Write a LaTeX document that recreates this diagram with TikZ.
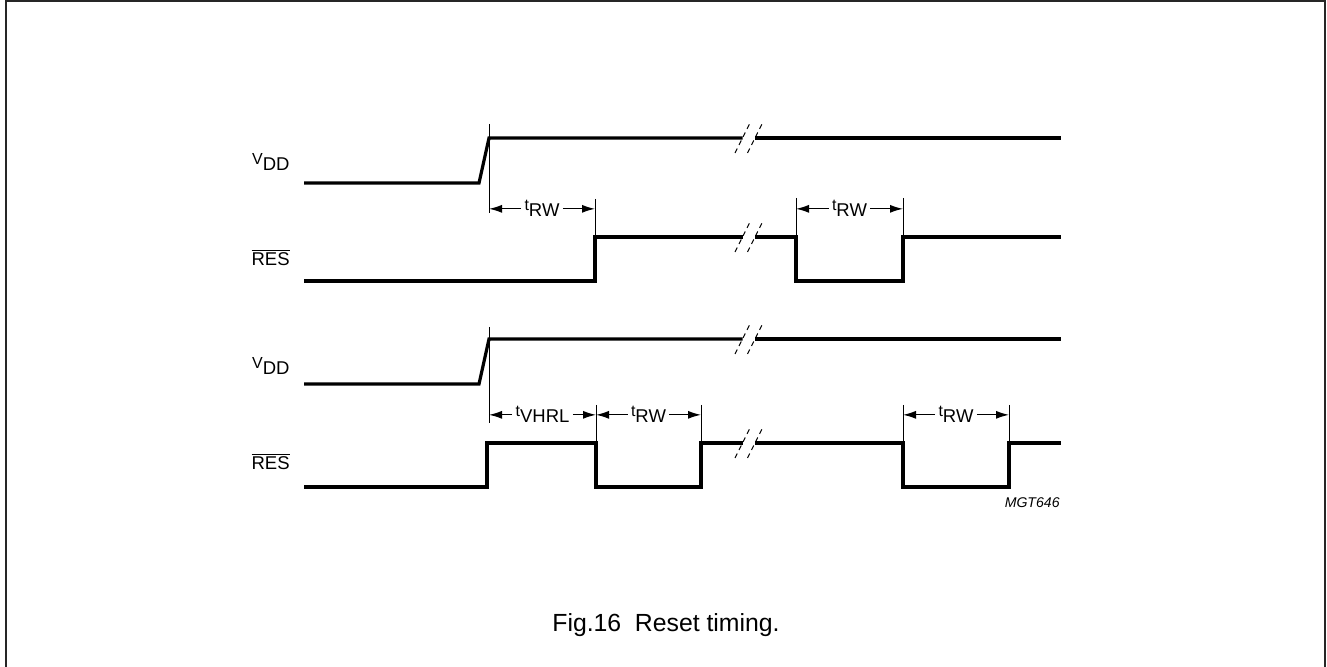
\documentclass[tikz,border=0pt]{standalone}
\usepackage{fontspec}
\setmainfont{Liberation Sans}
\usetikzlibrary{arrows.meta}
\tikzset{
    wave/.style = {line width=1.6pt, line join=miter},
    tick/.style = {line width=0.5pt},
    dim/.style = {-{Latex[length=6.5pt,width=4pt]}, line width=0.6pt},
    brk/.style = {line width=0.5pt, dash pattern=on 2.5pt off 2pt},
    lbl/.style = {inner sep=1.5pt, font=\fontsize{9.25}{11}\selectfont},
    sig/.style = {inner sep=0pt, anchor=base east, font=\fontsize{9.25}{11}\selectfont}
}
\newcommand{\upletter}[2]{\raisebox{3pt}{\fontsize{8}{9}\selectfont #1}#2}
\begin{document}
\begin{tikzpicture}[x=0.5pt, y=-0.5pt]
    \useasboundingbox (0,0) rectangle (1327,667);

    % Frame
    \draw[line width=1pt, black!85] (5.5,668) -- (5.5,1) -- (1325,1) -- (1325,668);

    % Signal names
    \node[sig] (vddA) at (290,171) {\upletter{V}{DD}};
    \node[sig] (resA) at (290,266) {$\overline{\mbox{RES}}$};
    \node[sig] (vddB) at (290,375) {\upletter{V}{DD}};
    \node[sig] (resB) at (290,470) {$\overline{\mbox{RES}}$};

    % Break points
    \coordinate (bA) at (749,138);
    \coordinate (bB) at (749,237);
    \coordinate (bC) at (749,339);
    \coordinate (bD) at (749,443);

    % Upper VDD and RES
    \draw[wave] (304,183) -- (479,183) -- (489,138) -- ([shift={(-6.5,0)}]bA);
    \draw[wave] ([shift={(6,0)}]bA) -- (1061,138);
    \draw[wave] (304,281) -- (595,281) -- (595,237) -- ([shift={(-6.5,0)}]bB);
    \draw[wave] ([shift={(6,0)}]bB) -- (796,237) -- (796,281) -- (903,281) -- (903,237) -- (1061,237);

    % Lower VDD and RES
    \draw[wave] (304,384) -- (479,384) -- (489,339) -- ([shift={(-6.5,0)}]bC);
    \draw[wave] ([shift={(6,0)}]bC) -- (1061,339);
    \draw[wave] (304,487) -- (487,487) -- (487,443) -- (596,443) -- (596,487) -- (701,487) -- (701,443) -- ([shift={(-6.5,0)}]bD);
    \draw[wave] ([shift={(6,0)}]bD) -- (903,443) -- (903,487) -- (1009,487) -- (1009,443) -- (1061,443);

    % Break marks
    \draw[brk] ([shift={(-14,15)}]bA) -- ++(15,-30) ([shift={(-1.5,15)}]bA) -- ++(15,-30);
    \draw[brk] ([shift={(-14,15)}]bB) -- ++(15,-30) ([shift={(-1.5,15)}]bB) -- ++(15,-30);
    \draw[brk] ([shift={(-14,15)}]bC) -- ++(15,-30) ([shift={(-1.5,15)}]bC) -- ++(15,-30);
    \draw[brk] ([shift={(-14,15)}]bD) -- ++(15,-30) ([shift={(-1.5,15)}]bD) -- ++(15,-30);

    % Ticks
    \coordinate (tA) at (489,124);
    \coordinate (tB) at (595,199);
    \coordinate (tC) at (796,198);
    \coordinate (tD) at (903,198);
    \draw[tick] (tA) -- ++(0,89);
    \draw[tick] (tB) -- ++(0,38);
    \draw[tick] (tC) -- ++(0,39);
    \draw[tick] (tD) -- ++(0,39);

    \coordinate (tE) at (489,327);
    \coordinate (tF) at (596,405);
    \coordinate (tG) at (701,405);
    \coordinate (tH) at (903,405);
    \coordinate (tI) at (1009,405);
    \draw[tick] (tE) -- ++(0,96);
    \draw[tick] (tF) -- ++(0,38);
    \draw[tick] (tG) -- ++(0,38);
    \draw[tick] (tH) -- ++(0,38);
    \draw[tick] (tI) -- ++(0,38);

    % Timing labels
    \node[lbl, anchor=base] (rwA) at (542,217) {\upletter{t}{RW}};
    \node[lbl, anchor=base] (rwB) at (849.5,217) {\upletter{t}{RW}};
    \node[lbl, anchor=base] (vhrl) at (542.5,423) {\upletter{t}{VHRL}};
    \node[lbl, anchor=base] (rwC) at (648.5,423) {\upletter{t}{RW}};
    \node[lbl, anchor=base] (rwD) at (956,423) {\upletter{t}{RW}};

    \draw[dim] (rwA.west) -- (rwA.west -| tA);
    \draw[dim] (rwA.east) -- (rwA.east -| tB);
    \draw[dim] (rwB.west) -- (rwB.west -| tC);
    \draw[dim] (rwB.east) -- (rwB.east -| tD);
    \draw[dim] (vhrl.west) -- (vhrl.west -| tE);
    \draw[dim] (vhrl.east) -- (vhrl.east -| tF);
    \draw[dim] (rwC.west) -- (rwC.west -| tF);
    \draw[dim] (rwC.east) -- (rwC.east -| tG);
    \draw[dim] (rwD.west) -- (rwD.west -| tH);
    \draw[dim] (rwD.east) -- (rwD.east -| tI);

    % Code and caption
    \node[inner sep=0pt, anchor=base east, font=\fontsize{7.05}{8}\selectfont\itshape] (code) at (1060,508) {MGT646};
    \node[inner sep=0pt, anchor=base, font=\fontsize{12.4}{14}\selectfont] (caption) at (666,631) {Fig.16\hspace{0.55em}Reset timing.};
\end{tikzpicture}
\end{document}
